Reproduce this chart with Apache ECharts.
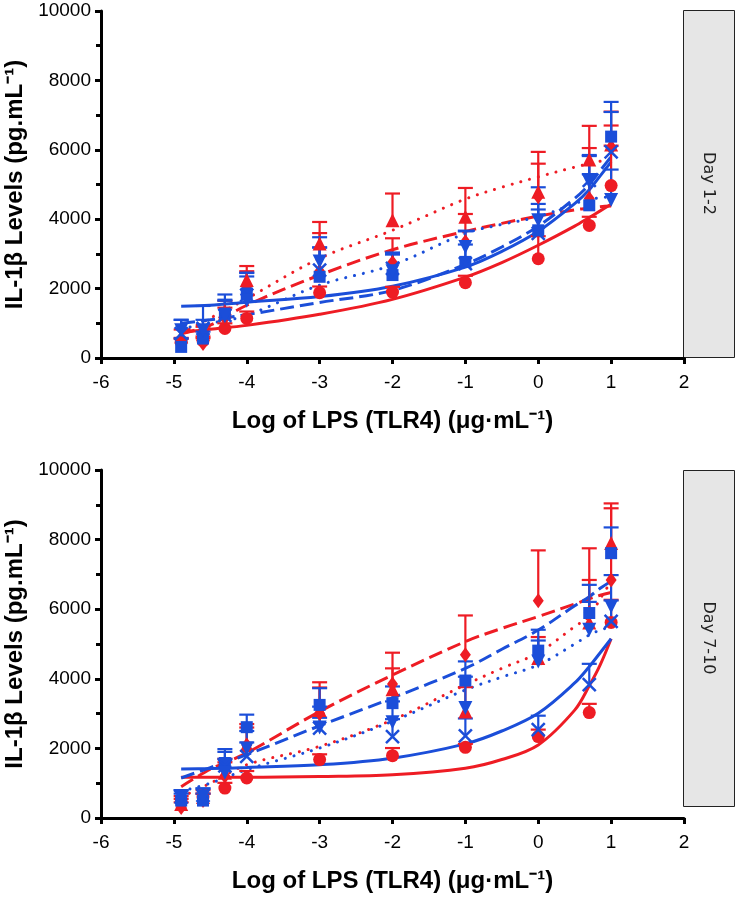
<!DOCTYPE html>
<html>
<head>
<meta charset="utf-8">
<script src="https://cdn.jsdelivr.net/npm/echarts@6/dist/echarts.min.js"></script>
<style>html,body{margin:0;background:#fff}#chart{width:736px;height:900px}</style>
</head>
<body>
<div id="chart"></div>
<script>
// IL-1β vs log LPS dose, two culture windows (Day 1-2 / Day 7-10).
// Means with one-sided (upper) SEM bars + fitted curves per group.
(function () {
  'use strict'
  const RED = '#ee1c24', BLUE = '#1b4ed9'

  const doseX = [-4.9, -4.6, -4.3, -4, -3, -2, -1, 0, 0.7, 1]
  const fitX = [-4.9, -4.5, -4, -3, -2, -1, -0.5, 0, 0.5, 0.7, 0.85, 1]

  // Day 1-2: means, upper error, fitted curve
  const d1RedCircle = [460, 500, 850, 1140, 1880, 1900, 2170, 2860, 3820, 4970]
  const d1RedCircleErr = [120, 120, 150, 200, 180, 150, 200, 650, 250, 1150]
  const d1RedTri = [620, 700, 1350, 2250, 3300, 3970, 4070, 4790, 5720, 6150]
  const d1RedTriErr = [200, 200, 300, 400, 620, 770, 830, 1150, 970, 950]
  const d1RedDia = [400, 420, 1150, 2050, 2500, 2750, 3350, 4650, 4600, 6050]
  const d1RedDiaErr = [150, 150, 300, 450, 1100, 700, 800, 950, 1450, 650]
  const d1BlueSq = [320, 560, 1280, 1860, 2340, 2390, 2770, 3680, 4400, 6380]
  const d1BlueSqErr = [250, 200, 400, 600, 850, 650, 500, 600, 900, 1000]
  const d1BlueX = [700, 850, 1230, 1810, 2530, 2580, 2720, 3590, 5120, 5940]
  const d1BlueXErr = [400, 650, 600, 640, 650, 400, 950, 850, 700, 1150]
  const d1BlueTri = [800, 800, 1200, 1650, 2780, 2500, 3200, 3970, 5080, 4550]
  const d1BlueTriErr = [300, 300, 450, 700, 700, 500, 450, 950, 770, 880]

  const d1FitRedSolid = [740, 830, 940, 1260, 1690, 2330, 2750, 3250, 3800, 4050, 4240, 4430]
  const d1FitRedDot = [700, 1150, 1710, 2870, 3680, 4580, 4920, 5220, 5500, 5600, 5670, 5720]
  const d1FitRedDash = [700, 950, 1520, 2390, 3120, 3650, 3880, 4090, 4270, 4320, 4360, 4380]
  const d1FitBlueSolid = [1490, 1520, 1610, 1770, 2070, 2620, 3070, 3650, 4450, 4850, 5250, 5650]
  const d1FitBlueDash = [1000, 1100, 1250, 1600, 1950, 2700, 3200, 3800, 4600, 5000, 5400, 5800]
  const d1FitBlueDot = [850, 1000, 1230, 2100, 2680, 3590, 3850, 4070, 4450, 4570, 4620, 4650]

  // Day 7-10
  const d7RedCircle = [530, 600, 860, 1150, 1680, 1790, 2030, 2340, 3030, 5620]
  const d7RedCircleErr = [100, 100, 150, 200, 150, 220, 100, 200, 250, 650]
  const d7RedTri = [400, 600, 1300, 2100, 3100, 3700, 3060, 4600, 5620, 7900]
  const d7RedTriErr = [150, 200, 400, 500, 650, 600, 700, 600, 1220, 1000]
  const d7RedDia = [300, 500, 1200, 2100, 3000, 3850, 4690, 6240, 5900, 6840]
  const d7RedDiaErr = [150, 200, 400, 600, 900, 900, 1130, 1450, 1850, 2200]
  const d7BlueSq = [500, 500, 1580, 2610, 3250, 3300, 3950, 4810, 5890, 7610]
  const d7BlueSqErr = [200, 200, 400, 360, 480, 480, 550, 600, 810, 740]
  const d7BlueX = [600, 650, 1500, 1770, 2580, 2340, 2360, 2540, 3830, 5650]
  const d7BlueXErr = [200, 200, 400, 400, 300, 500, 500, 400, 600, 600]
  const d7BlueTri = [600, 600, 1300, 2000, 2600, 2750, 3160, 4500, 5410, 6080]
  const d7BlueTriErr = [200, 250, 400, 500, 600, 600, 900, 600, 800, 900]

  const d7FitRedSolid = [1170, 1170, 1170, 1190, 1240, 1430, 1680, 2100, 3100, 3800, 4400, 5150]
  const d7FitRedDot = [600, 1000, 1530, 2060, 2820, 3830, 4300, 4750, 5500, 5800, 6300, 6800]
  const d7FitRedDash = [900, 1400, 1870, 3060, 4110, 5070, 5450, 5790, 6150, 6300, 6400, 6480]
  const d7FitBlueSolid = [1410, 1420, 1450, 1530, 1720, 2130, 2500, 3010, 3880, 4350, 4750, 5150]
  const d7FitBlueDash = [1150, 1450, 1820, 2650, 3450, 4300, 4850, 5400, 6100, 6360, 6600, 6800]
  const d7FitBlueDot = [770, 1000, 1390, 2010, 2780, 3680, 4050, 4400, 5000, 5260, 5400, 5500]

  const yTicks = [0, 2000, 4000, 6000, 8000, 10000]
  const xTicks = [-6, -5, -4, -3, -2, -1, 0, 1, 2]
  const panelNames = ['Day 1-2', 'Day 7-10']

  const CROSS = 'path://M0,0L10,10M10,0L0,10'
  const DASH = [14, 6], DOT = [0.1, 9]
  // group styles: marker + fit line style
  const GROUPS = [
    { c: RED, sym: 'circle', size: 13, line: 'solid' },
    { c: RED, sym: 'triangle', size: 14, line: DOT },
    { c: RED, sym: 'diamond', size: [11, 15], line: DASH },
    { c: BLUE, sym: 'rect', size: 12, line: DASH },
    { c: BLUE, sym: CROSS, size: 13, line: 'solid', hollow: true },
    { c: BLUE, sym: 'triangle', size: 14, line: DOT, rot: 180 }
  ]
  const PANELS = [
    { mean: [d1RedCircle, d1RedTri, d1RedDia, d1BlueSq, d1BlueX, d1BlueTri],
      err: [d1RedCircleErr, d1RedTriErr, d1RedDiaErr, d1BlueSqErr, d1BlueXErr, d1BlueTriErr],
      fit: [d1FitRedSolid, d1FitRedDot, d1FitRedDash, d1FitBlueDash, d1FitBlueSolid, d1FitBlueDot] },
    { mean: [d7RedCircle, d7RedTri, d7RedDia, d7BlueSq, d7BlueX, d7BlueTri],
      err: [d7RedCircleErr, d7RedTriErr, d7RedDiaErr, d7BlueSqErr, d7BlueXErr, d7BlueTriErr],
      fit: [d7FitRedSolid, d7FitRedDot, d7FitRedDash, d7FitBlueDash, d7FitBlueSolid, d7FitBlueDot] }
  ]

  const GRID_TOP = [11, 470], GRID_H = [347, 348]
  const FONT = '"Liberation Sans", Arial, sans-serif'

  const grids = GRID_TOP.map((t, i) => ({ left: 101, right: 52, top: t, height: GRID_H[i], outerBoundsMode: 'none' }))
  const axisLine = { onZero: false, lineStyle: { color: '#000', width: 3 } }
  const xAxes = grids.map((g, i) => ({
    type: 'value', gridIndex: i, min: xTicks[0], max: xTicks[xTicks.length - 1], interval: 1,
    splitLine: { show: false }, axisLine, axisTick: { length: 6, lineStyle: { width: 3, color: '#000' } },
    axisLabel: { color: '#000', fontSize: 19, fontFamily: FONT, margin: 15 },
    name: 'Log of LPS (TLR4) (μg·mL⁻¹)', nameLocation: 'middle', nameGap: 51,
    nameTextStyle: { color: '#000', fontSize: 24, fontWeight: 'bold', fontFamily: FONT }
  }))
  const yAxes = grids.map((g, i) => ({
    type: 'value', gridIndex: i, min: yTicks[0], max: yTicks[yTicks.length - 1], interval: 2000,
    splitLine: { show: false }, axisLine, axisTick: { length: 6, lineStyle: { width: 3, color: '#000' } },
    minorTick: { show: true, splitNumber: 2, length: 5, lineStyle: { width: 3, color: '#000' } },
    axisLabel: { color: '#000', fontSize: 19, fontFamily: FONT, margin: 10, formatter: v => String(v) },
    name: 'IL-1β Levels (pg.mL⁻¹)', nameLocation: 'middle', nameGap: 69, nameRotate: 90,
    nameTextStyle: { color: '#000', fontSize: 24, fontWeight: 'bold', fontFamily: FONT }
  }))

  const series = []
  PANELS.forEach((p, pi) => {
    GROUPS.forEach((g, gi) => {
      const ls = { color: g.c, width: 3, type: g.line }
      if (g.line === DOT) ls.cap = 'round'
      series.push({
        type: 'line', xAxisIndex: pi, yAxisIndex: pi, smooth: 0.35, showSymbol: false, z: 2,
        lineStyle: ls, data: fitX.map((x, k) => [x, p.fit[gi][k]]), silent: true
      })
    })
    GROUPS.forEach((g, gi) => {
      series.push({
        type: 'custom', xAxisIndex: pi, yAxisIndex: pi, z: 3, silent: true,
        encode: { x: 0, y: 1 },
        data: doseX.map((x, k) => [x, p.mean[gi][k], p.err[gi][k]]),
        renderItem: (params, api) => {
          const x = api.value(0), y = api.value(1), e = api.value(2)
          const a = api.coord([x, y]), b = api.coord([x, y + e])
          const st = { stroke: g.c, lineWidth: 2.2 }
          return { type: 'group', children: [
            { type: 'line', shape: { x1: a[0], y1: a[1], x2: b[0], y2: b[1] }, style: st },
            { type: 'line', shape: { x1: b[0] - 7.5, y1: b[1], x2: b[0] + 7.5, y2: b[1] }, style: st }
          ] }
        }
      })
    })
    GROUPS.forEach((g, gi) => {
      series.push({
        type: 'scatter', xAxisIndex: pi, yAxisIndex: pi, z: 4, silent: true,
        symbol: g.sym, symbolSize: g.size, symbolRotate: g.rot || 0,
        itemStyle: g.hollow ? { color: 'none', borderColor: g.c, borderWidth: 2.5, opacity: 1 } : { color: g.c, opacity: 1 },
        data: doseX.map((x, k) => [x, p.mean[gi][k]])
      })
    })
  })

  const strips = [[10, 347], [470, 336]]
  const graphic = []
  strips.forEach(([t, h], i) => {
    graphic.push({ type: 'rect', left: 683, top: t, shape: { width: 51, height: h },
      style: { fill: '#e6e6e6', stroke: '#222', lineWidth: 1 } })
    graphic.push({ type: 'text', x: 708.5, y: t + h / 2, rotation: -Math.PI / 2,
      style: { text: panelNames[i], fill: '#222', font: '16px "DejaVu Sans", sans-serif', align: 'center', verticalAlign: 'middle' } })
  })

  const chart = echarts.init(document.getElementById('chart'))
  chart.setOption({
    animation: false,
    grid: grids, xAxis: xAxes, yAxis: yAxes, series, graphic
  })
})()
</script>
</body>
</html>
